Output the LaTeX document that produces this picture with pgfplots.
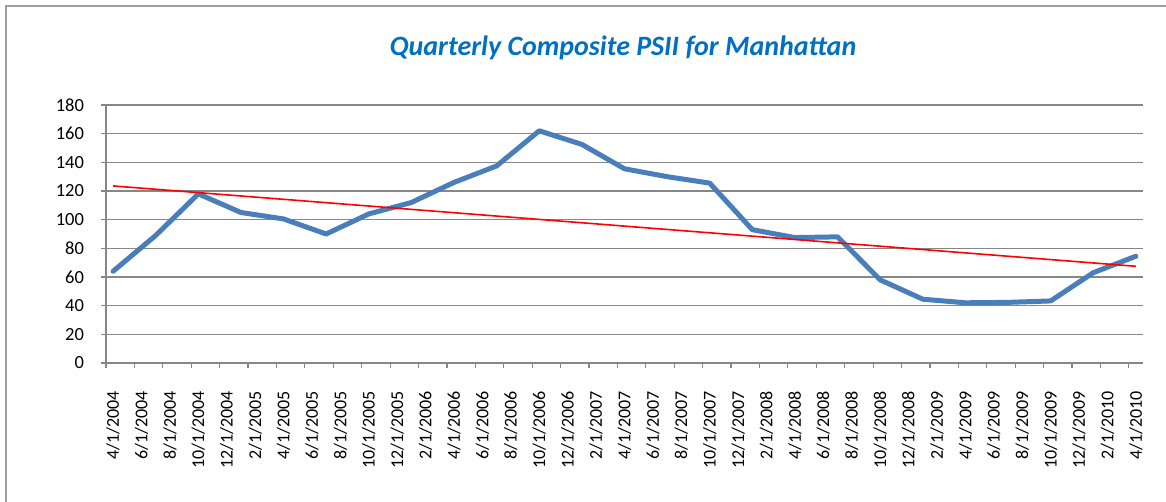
\documentclass[border=0pt]{standalone}
\usepackage{fontspec}
\setmainfont{Carlito}
\usepackage{pgfplots}
\usepackage{pgfplotstable}
\pgfplotsset{compat=1.18}
\definecolor{psblue}{HTML}{4A7EBB}
\definecolor{titleblue}{HTML}{0070C0}
\definecolor{gridgray}{HTML}{878787}
\pgfplotstableread{
x y
0 64
3 89
6 118
9 105
12 100.5
15 90
18 104
21 112
24 126
27 137.5
30 162
33 152.5
36 135.5
39 130
42 125.5
45 93
48 87.5
51 88
54 58
57 44.5
60 42
63 42.3
66 43.3
69 63
72 74.5
}\psii
\begin{document}
\begin{tikzpicture}[x=1pt,y=1pt]
\useasboundingbox (0,0) rectangle (583,251);
\draw[gridgray!80, line width=1pt] (3,-5) -- (3,248) -- (590,248);
\node[font=\fontsize{14}{16}\selectfont\bfseries\itshape, text=titleblue, anchor=base] at (311.5,223) {Quarterly Composite PSII for Manhattan};
\begin{axis}[
  at={(53pt,69.5pt)}, anchor=south west,
  scale only axis, width=518.5pt, height=129pt,
  xmin=-0.5, xmax=72.5, ymin=0, ymax=180,
  ytick={0,20,...,180},
  xtick={0,2,...,72},
  xticklabels={4/1/2004,6/1/2004,8/1/2004,10/1/2004,12/1/2004,
    2/1/2005,4/1/2005,6/1/2005,8/1/2005,10/1/2005,12/1/2005,
    2/1/2006,4/1/2006,6/1/2006,8/1/2006,10/1/2006,12/1/2006,
    2/1/2007,4/1/2007,6/1/2007,8/1/2007,10/1/2007,12/1/2007,
    2/1/2008,4/1/2008,6/1/2008,8/1/2008,10/1/2008,12/1/2008,
    2/1/2009,4/1/2009,6/1/2009,8/1/2009,10/1/2009,12/1/2009,
    2/1/2010,4/1/2010},
  minor xtick={-0.5,1.5,...,71.5},
  axis x line=bottom, axis y line=left,
  axis line style={-, gridgray, line width=0.75pt},
  ymajorgrids, major grid style={gridgray, line width=0.75pt},
  tick align=outside,
  major tick length=2.5pt, minor tick length=2.5pt,
  major x tick style={draw=none},
  minor x tick style={gridgray, line width=0.6pt},
  major y tick style={gridgray, line width=0.75pt},
  /pgf/number format/assume math mode=true,
  ticklabel style={text=black},
  xticklabel style={font=\fontsize{9}{11}\selectfont, yshift=-8pt, rotate=90, anchor=east},
  yticklabel style={font=\fontsize{9.25}{11}\selectfont, xshift=-5pt, anchor=east},
  clip=false,
]
\addplot[psblue, line width=2.5pt, line join=round, line cap=round] table[x=x,y=y] {\psii};
\addplot[red, line width=0.8pt] table[x=x, y={create col/linear regression={y=y}}] {\psii};
\end{axis}
\end{tikzpicture}
\end{document}
